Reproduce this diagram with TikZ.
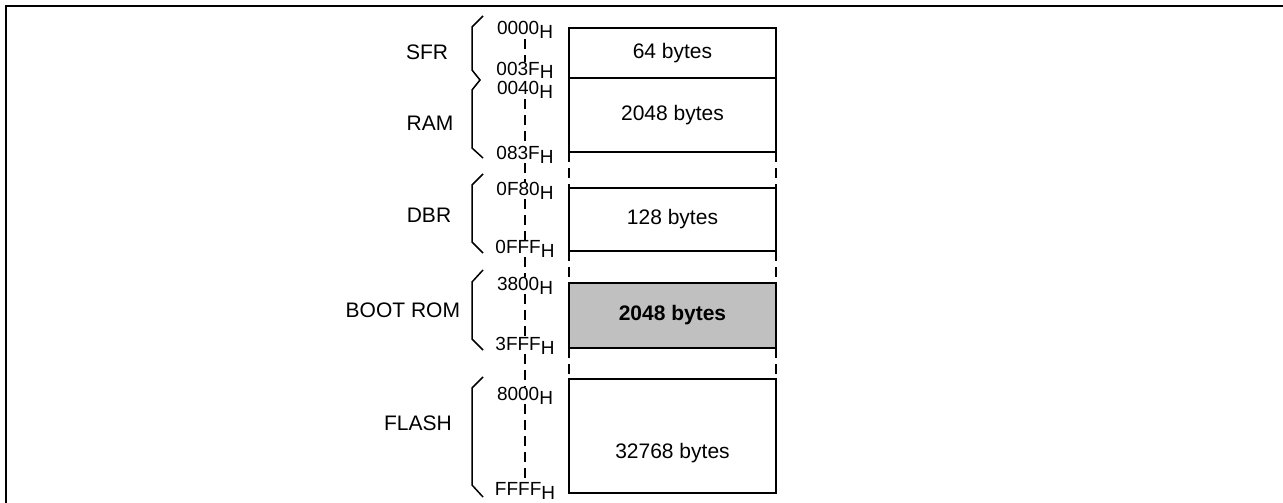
\documentclass[tikz,border=0pt]{standalone}
\usepackage{fontspec}
\setmainfont{Liberation Sans}
\usetikzlibrary{positioning}
\definecolor{bootgray}{HTML}{C0C0C0}
\newcommand{\hexaddr}[1]{#1\raisebox{-4pt}{H}}

\begin{document}
\begin{tikzpicture}[x=1pt,y=-1pt,
  every node/.style={inner sep=0pt,outer sep=0pt},
  region/.style={font=\fontsize{21}{25}\selectfont},
  addr/.style={font=\fontsize{19}{22}\selectfont,anchor=base},
  membox/.style={draw,line width=1.6pt,minimum width=207pt,font=\fontsize{21}{25}\selectfont},
  gap/.style={line width=1.6pt,dash pattern=on 10pt off 6pt},
  brace/.style={line width=1.5pt,line join=miter}]
\useasboundingbox (0,0) rectangle (1283,503);
\draw[line width=1.4pt] (6,503) -- (6,6) -- (1283,6);
% memory blocks
\node[membox,minimum height=50pt] (sfrbox) at (672.5,53) {64 bytes};
\node[membox,minimum height=74pt,below=0pt of sfrbox] (rambox) {2048 bytes};
\node[membox,minimum height=63pt,below=36pt of rambox] (dbrbox) {128 bytes};
\node[membox,minimum height=65pt,below=32pt of dbrbox,fill=bootgray,font=\fontsize{21}{25}\selectfont\bfseries] (bootbox) {2048 bytes};
\node[membox,minimum height=114pt,below=31pt of bootbox,label={[yshift=-17pt,font=\fontsize{21}{25}\selectfont]center:32768 bytes}] (flashbox) {};
\draw[gap] (rambox.south west) -- (dbrbox.north west);
\draw[gap] (rambox.south east) -- (dbrbox.north east);
\draw[gap] (dbrbox.south west) -- (bootbox.north west);
\draw[gap] (dbrbox.south east) -- (bootbox.north east);
\draw[gap] (bootbox.south west) -- (flashbox.north west);
\draw[gap] (bootbox.south east) -- (flashbox.north east);
% addresses
\node[addr] (a0) at (525,35) {\hexaddr{0000}};
\node[addr] (a1) at (525,75) {\hexaddr{003F}};
\node[addr] (a2) at (525,95) {\hexaddr{0040}};
\node[addr] (a3) at (525,159) {\hexaddr{083F}};
\node[addr] (a4) at (525,195) {\hexaddr{0F80}};
\node[addr] (a5) at (525,253) {\hexaddr{0FFF}};
\node[addr] (a6) at (525,290) {\hexaddr{3800}};
\node[addr] (a7) at (525,350) {\hexaddr{3FFF}};
\node[addr] (a8) at (525,400) {\hexaddr{8000}};
\node[addr] (a9) at (525,495) {\hexaddr{FFFF}};
\draw[gap] (a0) -- (a1);
\draw[gap] (a2) -- (a3);
\draw[gap] (a3) -- (a4);
\draw[gap] (a4) -- (a5);
\draw[gap] (a5) -- (a6);
\draw[gap] (a6) -- (a7);
\draw[gap] (a7) -- (a8);
\draw[gap] (a8) -- (a9);
% region names and braces
\node[region] (sfr) at (427,52.5) {SFR};
\node[region] (ram) at (430,123) {RAM};
\node[region] (dbr) at (429,215) {DBR};
\node[region,anchor=east] (boot) at (460,310) {BOOT ROM};
\node[region] (flash) at (418,423) {FLASH};
\draw[brace] (483,16) -- (472,27) -- (472,70) -- (480,80) -- (472,90) -- (472,148) -- (483,158);
\draw[brace] (483,174) -- (472,185) -- (472,242) -- (483,253);
\draw[brace] (483,270) -- (472,282) -- (472,339) -- (483,350);
\draw[brace] (483,377) -- (472,388) -- (472,485) -- (483,497);
\end{tikzpicture}
\end{document}
